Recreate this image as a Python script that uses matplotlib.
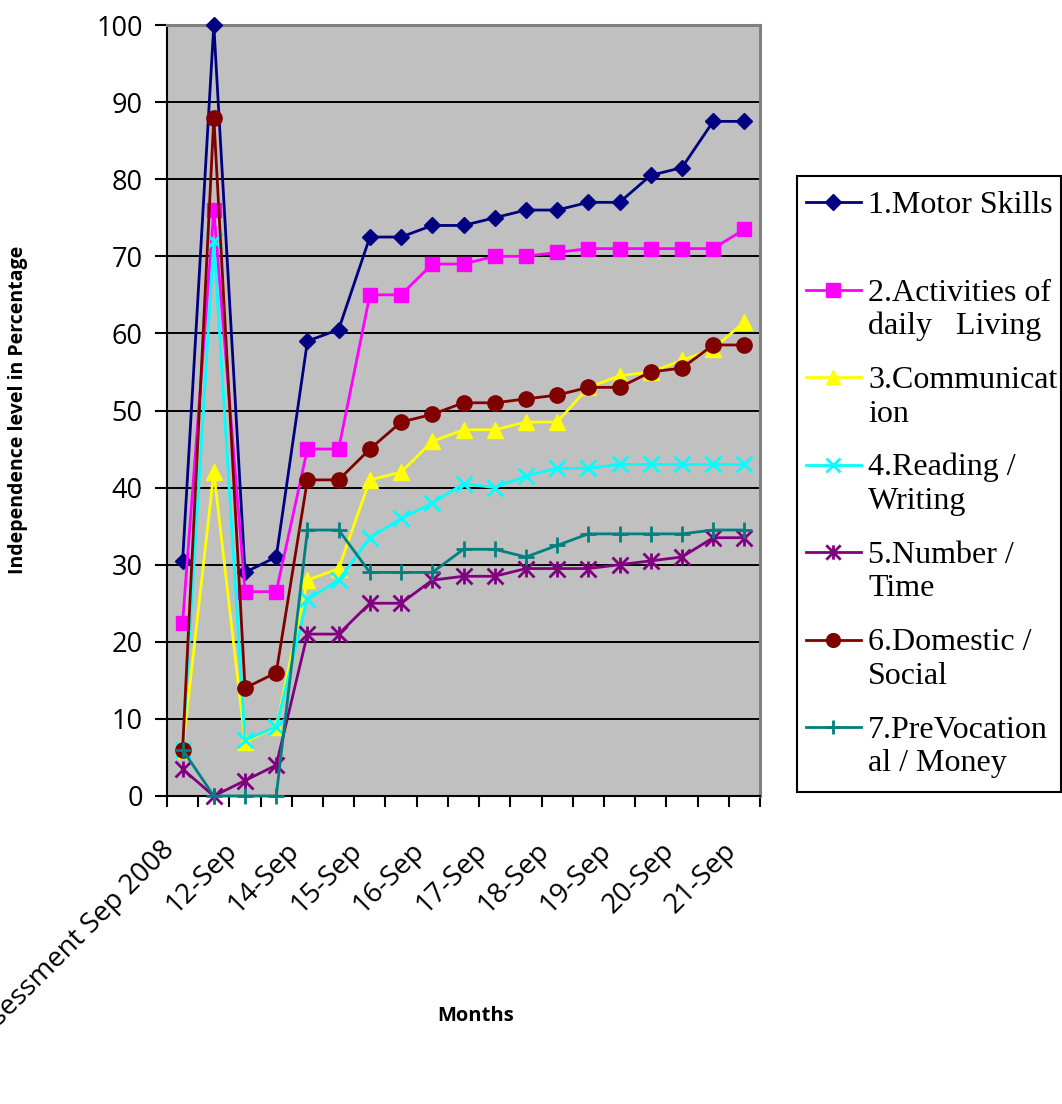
import matplotlib
matplotlib.use("Agg")
import matplotlib.pyplot as plt
import matplotlib.transforms as mtrans
import numpy as np
from matplotlib.path import Path
from matplotlib.lines import Line2D
from matplotlib.patches import Rectangle

# ---------------- data ----------------
tick_labels = ["Assessment Sep 2008", "12-Sep", "14-Sep", "15-Sep", "16-Sep",
               "17-Sep", "18-Sep", "19-Sep", "20-Sep", "21-Sep"]
label_step = 2

motor_skills = [30.5, 100, 29, 31, 59, 60.5, 72.5, 72.5, 74, 74, 75, 76, 76, 77, 77, 80.5, 81.5, 87.5, 87.5]
daily_living = [22.5, 76, 26.5, 26.5, 45, 45, 65, 65, 69, 69, 70, 70, 70.5, 71, 71, 71, 71, 71, 73.5]
communication = [6, 42, 7, 9, 28, 29.5, 41, 42, 46, 47.5, 47.5, 48.5, 48.5, 53, 54.5, 55, 56.5, 58, 61.5]
reading_writing = [6, 72, 7.25, 9, 25.5, 28, 33.5, 36, 38, 40.5, 40, 41.5, 42.5, 42.5, 43, 43, 43, 43, 43]
number_time = [3.5, 0, 2, 4, 21, 21, 25, 25, 28, 28.5, 28.5, 29.5, 29.5, 29.5, 30, 30.5, 31, 33.5, 33.5]
domestic_social = [6, 88, 14, 16, 41, 41, 45, 48.5, 49.5, 51, 51, 51.5, 52, 53, 53, 55, 55.5, 58.5, 58.5]
prevocational_money = [6, 0, 0, 0, 34.5, 34.5, 29, 29, 29, 32, 32, 31, 32.5, 34, 34, 34, 34, 34.5, 34.5]

legend_labels = ["1.Motor Skills", "2.Activities of\ndaily   Living", "3.Communicat\nion",
                 "4.Reading /\nWriting", "5.Number /\nTime", "6.Domestic /\nSocial",
                 "7.PreVocation\nal / Money"]

# ---------------- styles ----------------
star = Path([(-1, -1), (1, 1), (-1, 1), (1, -1), (0, -1), (0, 1)],
            [Path.MOVETO, Path.LINETO, Path.MOVETO, Path.LINETO, Path.MOVETO, Path.LINETO])

series = [
    (motor_skills, '#000080', 'D', 8.5, 1.0),
    (daily_living, '#FF00FF', 's', 10.5, 1.0),
    (communication, '#FFFF00', '^', 11.5, 1.0),
    (reading_writing, '#00FFFF', 'x', 11, 2.0),
    (number_time, '#800080', star, 11.5, 2.0),
    (domestic_social, '#800000', 'o', 11, 1.0),
    (prevocational_money, '#008080', '+', 11, 2.0),
]

W, H = 1062, 1104
def fx(px):
    return px / W
def fy(py):
    return 1 - py / H

fig = plt.figure(figsize=(W / 100, H / 100), dpi=100)
ax = fig.add_axes([fx(167), fy(796), fx(760) - fx(167), fy(25) - fy(796)])
ax.set_facecolor('#C0C0C0')

x = np.arange(len(motor_skills))
for vals, col, mk, ms, mew in series:
    ax.plot(x, vals, color=col, lw=2.0, marker=mk, ms=ms, mew=mew,
            mfc=col, mec=col, clip_on=False, zorder=3)

ax.set_xlim(-0.5, len(motor_skills) - 0.5)
ax.set_ylim(0, 100)

# y axis
ax.set_yticks(np.arange(0, 101, 10))
ax.tick_params(axis='y', length=8.5, width=1.5, pad=9, labelsize=19.5,
               direction='out', labelfontfamily='Open Sans')
ax.yaxis.grid(True, color='black', lw=1.4)
ax.set_axisbelow(True)

# x axis
ax.set_xticks(np.arange(0, len(motor_skills), label_step))
ax.set_xticklabels(tick_labels, rotation=45, ha='right', va='top',
                   rotation_mode='anchor', fontsize=20, family='Open Sans')
ax.tick_params(axis='x', which='major', length=0, pad=29)
ax.set_xticks(np.arange(-0.5, len(motor_skills), 1), minor=True)
ax.tick_params(axis='x', which='minor', length=8, width=1.5, direction='out')
off = mtrans.ScaledTranslation(-0.22, 0, fig.dpi_scale_trans)
for lbl in ax.get_xticklabels():
    lbl.set_transform(lbl.get_transform() + off)

for s in ['left', 'bottom']:
    ax.spines[s].set_color('black')
    ax.spines[s].set_linewidth(1.5)
for s in ['top', 'right']:
    ax.spines[s].set_color('#808080')
    ax.spines[s].set_linewidth(2.2)

fig.text(fx(18.5), fy(410), "Independence level in Percentage", rotation=90,
         ha='center', va='center', fontsize=14, fontweight='bold', family='Open Sans')
fig.text(fx(476), fy(1016), "Months", ha='center', va='center',
         fontsize=14.5, fontweight='bold', family='Open Sans')

# legend (drawn manually to keep Excel layout)
fig.add_artist(Rectangle((fx(797), fy(792)), fx(1061) - fx(797), fy(176) - fy(792),
                         transform=fig.transFigure, fill=False, ec='black', lw=1.5))
for i, ((vals, col, mk, ms, mew), lab) in enumerate(zip(series, legend_labels)):
    yc = 202 + 87.5 * i
    fig.add_artist(Line2D([fx(806), fx(861)], [fy(yc), fy(yc)], color=col, lw=2.0,
                          transform=fig.transFigure))
    fig.add_artist(Line2D([fx(833)], [fy(yc)], color=col, marker=mk, ms=ms * 0.9, mew=mew,
                          mfc=col, mec=col, lw=0, transform=fig.transFigure))
    for j, line in enumerate(lab.split("\n")):
        fig.text(fx(868), fy(yc + 11 + 33.5 * j), line, ha='left', va='baseline',
                 fontsize=23, family='Liberation Serif')

fig.savefig("out.png", dpi=100)
